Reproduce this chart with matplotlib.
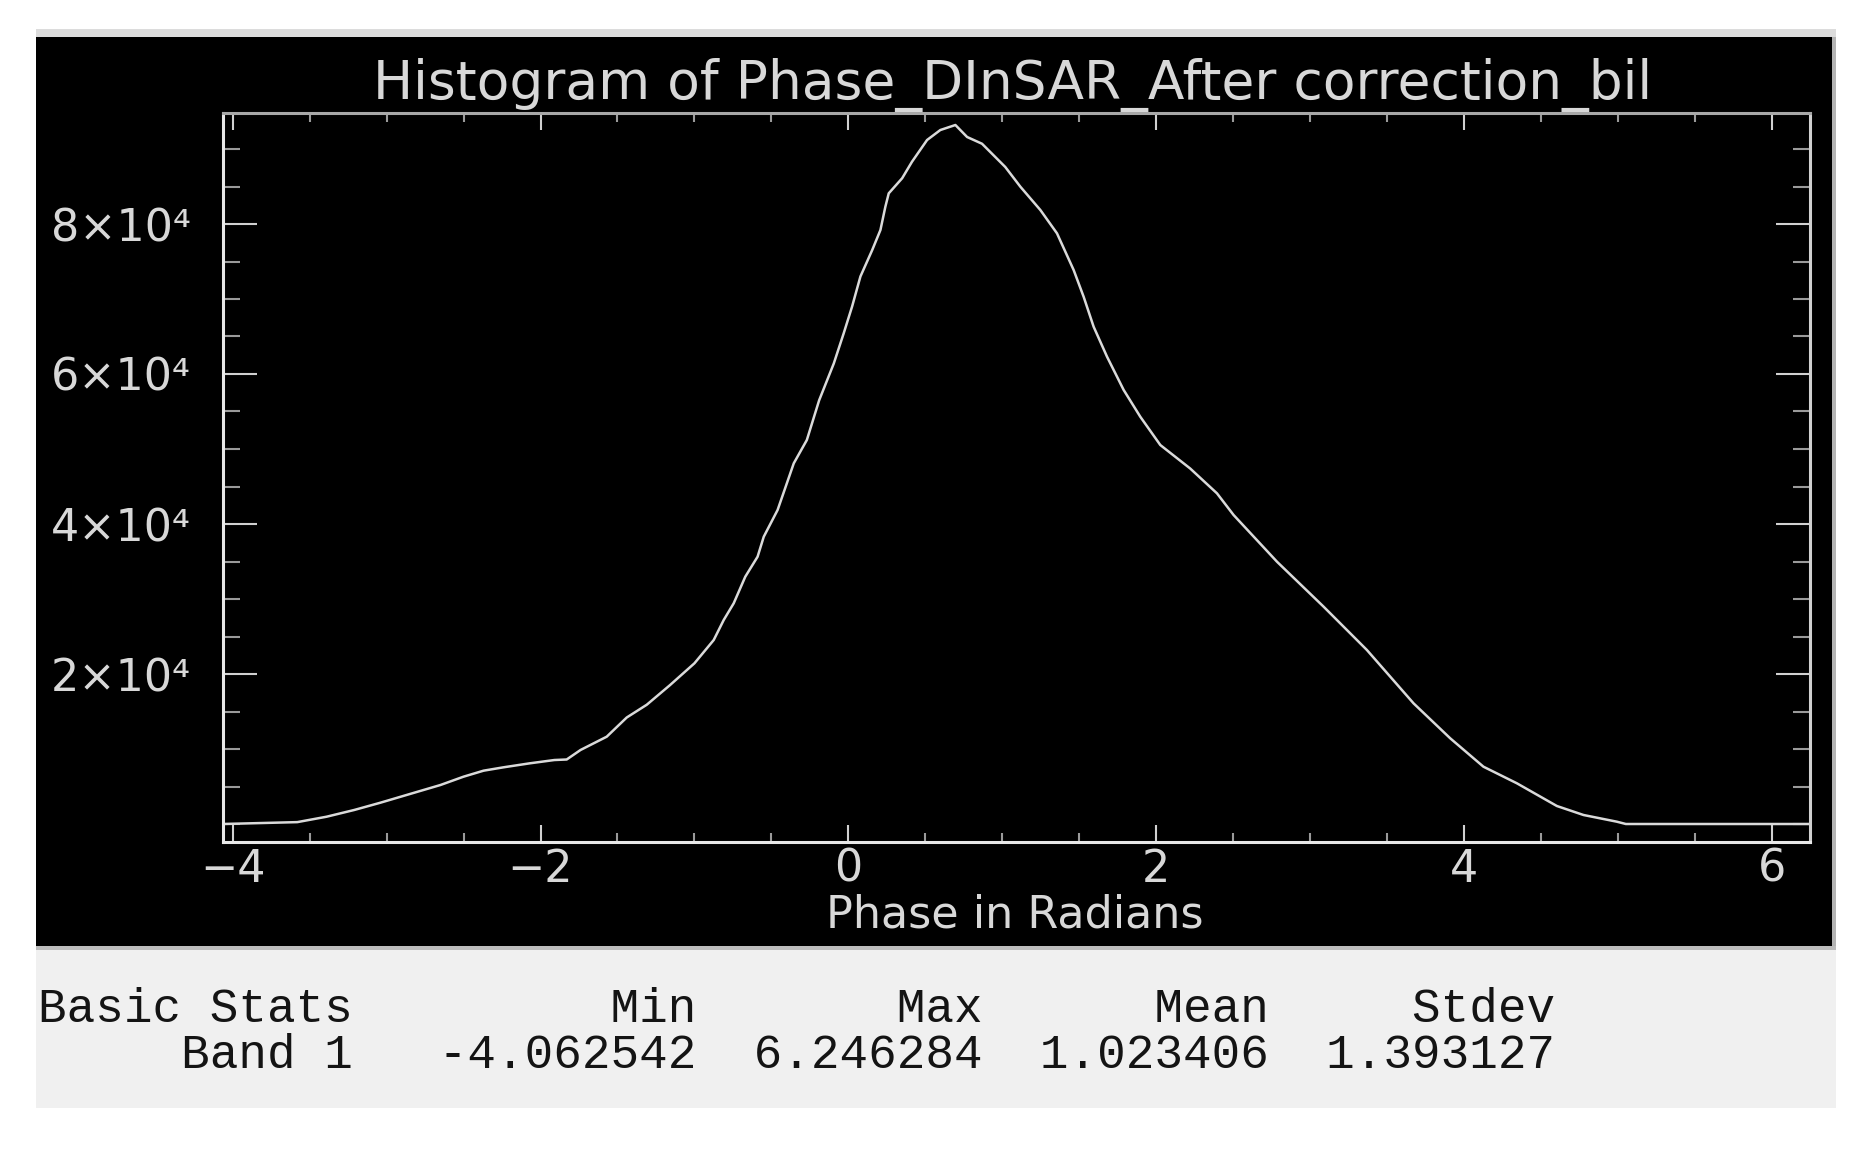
import matplotlib
matplotlib.use('Agg')
import matplotlib.pyplot as plt
from matplotlib.patches import Rectangle
from matplotlib.ticker import FixedLocator, MultipleLocator

# histogram curve (phase in radians, pixel count)
phase = [-4.06, -3.58, -3.39, -3.21, -3.04, -2.87, -2.65, -2.50, -2.37, -2.24,
         -2.07, -1.91, -1.83, -1.74, -1.57, -1.44, -1.31, -1.16, -1.00, -0.875,
         -0.81, -0.745, -0.67, -0.59, -0.55, -0.46, -0.40, -0.355, -0.27, -0.19,
         -0.095, -0.031, 0.024, 0.078, 0.154, 0.208, 0.24, 0.262, 0.349, 0.413,
         0.511, 0.597, 0.695, 0.771, 0.868, 1.019, 1.117, 1.247, 1.355, 1.463,
         1.528, 1.593, 1.68, 1.788, 1.896, 2.026, 2.22, 2.394, 2.502, 2.784,
         3.087, 3.368, 3.671, 3.909, 4.125, 4.342, 4.602, 4.775, 4.991, 5.05,
         6.246]
counts = [0, 250, 970, 1870, 2840, 3870, 5200, 6310, 7110, 7560,
          8090, 8530, 8600, 9870, 11640, 14200, 15900, 18500, 21430, 24530,
          27200, 29430, 32970, 35640, 38300, 41870, 45420, 48090, 51200, 56500,
          61400, 65400, 69000, 73000, 76500, 79200, 82300, 84090, 86100, 88300,
          91200, 92530, 93200, 91600, 90700, 87600, 84970, 81860, 78750, 73870,
          70300, 66300, 62300, 57870, 54300, 50530, 47400, 44090, 41200, 34970,
          28970, 23200, 16090, 11430, 7640, 5430, 2400, 1200, 310, 0,
          0]

x_major = [-4, -2, 0, 2, 4, 6]
x_labels = ['\u22124', '\u22122', '0', '2', '4', '6']
y_major = [20000, 40000, 60000, 80000]
y_labels = ['2\u00d710\u2074', '4\u00d710\u2074', '6\u00d710\u2074', '8\u00d710\u2074']

stat_names = ['Min', 'Max', 'Mean', 'Stdev']
band_name = 'Band 1'
band_stats = [-4.062542, 6.246284, 1.023406, 1.393127]

title = 'Histogram of Phase_DInSAR_After correction_bil'
xlabel = 'Phase in Radians'

W, H = 1862, 1150


def fx(px):
    return px / W


def fy(py):
    return 1 - py / H


def box(fig, x0, y0, x1, y1, color):
    fig.add_artist(Rectangle((fx(x0), fy(y1)), fx(x1) - fx(x0), fy(y0) - fy(y1),
                             transform=fig.transFigure, facecolor=color,
                             edgecolor='none', zorder=-5))


fig = plt.figure(figsize=(W / 100, H / 100), dpi=100, facecolor='white')

# window panels
box(fig, 36, 29, 1836, 37, '#dcdcdc')
box(fig, 36, 37, 1832, 946, 'black')
box(fig, 1832, 37, 1836, 946, '#b4b4b4')
box(fig, 36, 946, 1836, 1108, '#f0f0f0')
box(fig, 36, 946, 1836, 950, '#bdbdbd')

ax = fig.add_axes([fx(223), fy(842), fx(1810) - fx(223), fy(113) - fy(842)])
ax.set_facecolor('black')
ax.plot(phase, counts, color='#dadada', lw=1.8)
ax.set_xlim(-4.062542, 6.246284)
ax.set_ylim(-2400, 94800)

ax.xaxis.set_major_locator(FixedLocator(x_major))
ax.xaxis.set_minor_locator(MultipleLocator(0.5))
ax.set_xticklabels(x_labels)
ax.yaxis.set_major_locator(FixedLocator(y_major))
ax.yaxis.set_minor_locator(MultipleLocator(5000))
ax.set_yticklabels(y_labels)

fg = '#d8d8d8'
ax.tick_params(which='both', direction='in', top=True, right=True,
               labelcolor=fg, width=1.5)
ax.tick_params(which='major', color='#d0d0d0')
ax.tick_params(which='minor', color='#9a9a9a')
ax.tick_params(axis='x', which='major', length=12.5, pad=4, labelsize=32)
ax.tick_params(axis='x', which='minor', length=6.5)
ax.tick_params(axis='y', which='major', length=24.5, pad=23, labelsize=32)
ax.tick_params(axis='y', which='minor', length=12.5)

for side, col in [('left', '#e8e8e8'), ('bottom', '#e8e8e8'),
                  ('top', '#a8a8a8'), ('right', '#d0d0d0')]:
    ax.spines[side].set_color(col)
    ax.spines[side].set_linewidth(2.2)

fig.text(fx(1013), fy(99), title, ha='center', va='baseline',
         fontsize=38.4, color=fg)
fig.text(fx(1015), fy(928), xlabel, ha='center', va='baseline',
         fontsize=32, color=fg)

header = f"{'Basic Stats':<11}{stat_names[0]:>12}" + ''.join(f"{s:>10}" for s in stat_names[1:])
row = f"{band_name:>11}{band_stats[0]:>12.6f}" + ''.join(f"{v:>10.6f}" for v in band_stats[1:])
fig.text(fx(38), fy(1022), header, ha='left', va='baseline',
         family='Liberation Mono', fontsize=34.25, color='#141414')
fig.text(fx(38), fy(1068), row, ha='left', va='baseline',
         family='Liberation Mono', fontsize=34.25, color='#141414')

fig.savefig('out.png', dpi=100, facecolor='white')
